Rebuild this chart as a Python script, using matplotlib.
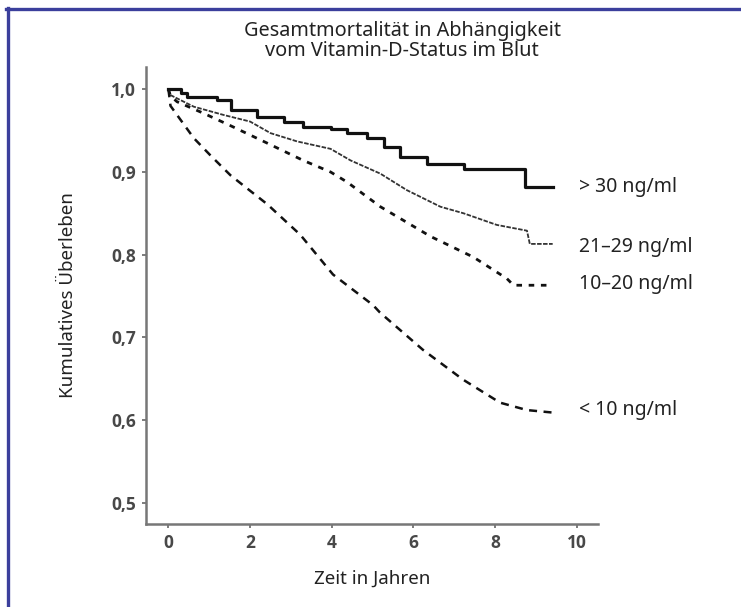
import numpy as np
import matplotlib
matplotlib.use("Agg")
import matplotlib.pyplot as plt
from matplotlib.lines import Line2D
from matplotlib.ticker import FuncFormatter

# survival curves (years, cumulative survival)
t_30 = [0, 0.3, 0.46, 1.19, 1.52, 2.17, 2.82, 3.3, 3.97, 4.37, 4.86, 5.27, 5.68, 6.33, 7.23, 8.74, 9.43]
s_30 = [1.0, 0.995, 0.991, 0.987, 0.975, 0.967, 0.961, 0.955, 0.952, 0.947, 0.941, 0.930, 0.918, 0.910, 0.904, 0.882, 0.882]

t_21 = [0, 0.05, 0.62, 1.35, 2.0, 2.5, 3.15, 3.97, 4.46, 5.19, 5.84, 6.66, 7.23, 8.04, 8.78, 8.85, 9.41]
s_21 = [1.0, 0.993, 0.979, 0.969, 0.961, 0.947, 0.937, 0.928, 0.914, 0.898, 0.878, 0.858, 0.850, 0.836, 0.829, 0.813, 0.813]

t_10 = [0, 0.05, 0.21, 0.86, 1.52, 2.33, 3.3, 3.97, 4.37, 5.19, 6.42, 7.47, 8.29, 8.45, 9.41]
s_10 = [1.0, 0.992, 0.985, 0.971, 0.956, 0.937, 0.914, 0.900, 0.888, 0.858, 0.822, 0.797, 0.771, 0.763, 0.763]

t_lt10 = [0, 0.05, 0.21, 0.62, 1.03, 1.52, 1.93, 2.42, 3.23, 4.03, 5.01, 5.18, 6.23, 7.21, 8.12, 8.78, 9.41]
s_lt10 = [1.0, 0.98, 0.969, 0.941, 0.920, 0.896, 0.880, 0.861, 0.824, 0.776, 0.739, 0.730, 0.685, 0.649, 0.621, 0.612, 0.609]

labels = ["> 30 ng/ml", "21\u201329 ng/ml", "10\u201320 ng/ml", "< 10 ng/ml"]
label_y = [0.882, 0.809, 0.764, 0.612]

x_ticks = [0, 2, 4, 6, 8, 10]
y_ticks = [0.5, 0.6, 0.7, 0.8, 0.9, 1.0]

txt_font = ["Noto Sans", "DejaVu Sans"]
tick_font = ["Open Sans", "DejaVu Sans"]

fig = plt.figure(figsize=(7.41, 6.07), dpi=100, facecolor="white")
ax = fig.add_axes([146/741, 1-524/607, (598-146)/741, (524-67)/607])

ax.plot(t_30, s_30, color="#111", lw=2.3, drawstyle="steps-post")
ax.plot(t_21, s_21, color="#333", lw=1.3, ls=(0, (2.5, 0.8)))
ax.plot(t_10, s_10, color="#111", lw=2.0, ls=(0, (2, 2.4)))
ax.plot(t_lt10, s_lt10, color="#111", lw=1.8, ls=(0, (3.2, 2.6)))

for lab, y in zip(labels, label_y):
    ax.text(10.05, y, lab, ha="left", va="center", fontsize=14, family=txt_font,
            color="#222", clip_on=False)

ax.set_xlim(-0.55, 10.52)
ax.set_ylim(0.4742, 1.027)
ax.set_xticks(x_ticks)
ax.set_yticks(y_ticks)
ax.yaxis.set_major_formatter(FuncFormatter(lambda v, p: f"{v:.1f}".replace(".", ",")))
for lab in ax.get_xticklabels() + ax.get_yticklabels():
    lab.set_family(tick_font)
    lab.set_fontweight("bold")
    lab.set_fontsize(12.5)
    lab.set_color("#484848")
ax.tick_params(length=3, width=1.2, color="#666", pad=4)
for sp in ["top", "right"]:
    ax.spines[sp].set_visible(False)
for sp in ["left", "bottom"]:
    ax.spines[sp].set_color("#777")
    ax.spines[sp].set_linewidth(1.8)

ax.set_xlabel("Zeit in Jahren", fontsize=13.5, family=txt_font, color="#222", labelpad=13)
ax.set_ylabel("Kumulatives \u00dcberleben", fontsize=13.5, family=txt_font, color="#222", labelpad=25)

fig.text(402/741, 1-41/607, "Gesamtmortalit\u00e4t in Abh\u00e4ngigkeit\nvom Vitamin-D-Status im Blut",
         ha="center", va="center", fontsize=14.3, family=txt_font, color="#222", linespacing=1.0)

# navy frame on top and left
fig.add_artist(Line2D([7.5/741, 7.5/741], [0, 1-7.5/607], transform=fig.transFigure,
                      color="#3b3f9c", lw=2.4))
fig.add_artist(Line2D([6.3/741, 1], [1-8.7/607, 1-8.7/607], transform=fig.transFigure,
                      color="#3b3f9c", lw=2.4))

fig.savefig("out.png", dpi=100)
